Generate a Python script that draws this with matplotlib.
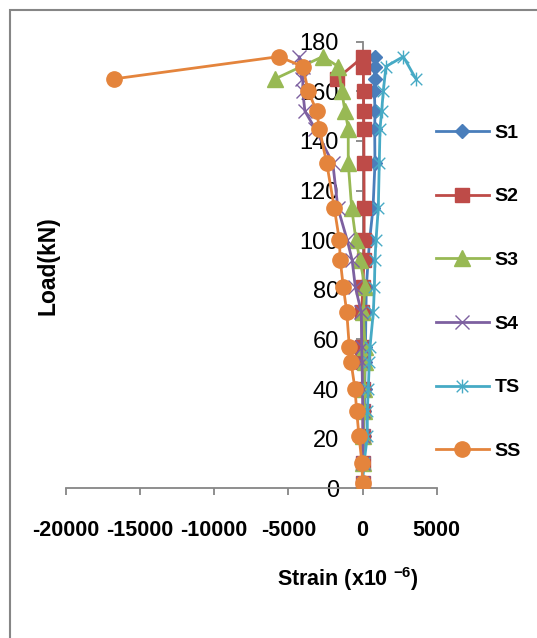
import matplotlib.pyplot as plt
from matplotlib.path import Path
from matplotlib.patches import Rectangle

plt.rcParams["axes.unicode_minus"] = False
plt.rcParams["mathtext.fontset"] = "custom"
plt.rcParams["mathtext.rm"] = "Liberation Sans"
plt.rcParams["mathtext.bf"] = "Liberation Sans:bold"

# load steps (kN), last step is the post-peak reading
load = [2, 10, 21, 31, 40, 51, 57, 71, 81, 92, 100, 113, 131, 145, 152, 160, 170, 174, 165]

# strain readings (x10^-6)
s1 = [0, 30, 80, 120, 150, 180, 200, 230, 260, 380, 480, 710, 840, 820, 840, 800, 820, 840, 860]
s2 = [0, 0, 30, 40, 50, 0, -20, -60, 20, 100, 110, 110, 100, 90, 80, 70, 60, 60, -1740]
s3 = [0, 20, 60, 80, 100, 170, 170, 55, 170, -170, -440, -730, -960, -960, -1180, -1400, -1630, -2680, -5900]
s4 = [0, 20, 30, 20, 0, -30, -50, -80, -480, -700, -1030, -1660, -2000, -3200, -3880, -4030, -4000, -4270, -4100]
ts = [0, 100, 325, 325, 390, 460, 505, 730, 800, 840, 910, 1065, 1130, 1180, 1290, 1400, 1580, 2750, 3600]
ss = [0, -30, -235, -390, -505, -775, -890, -1060, -1290, -1500, -1560, -1900, -2410, -2910, -3090, -3650, -4030, -5630, -16750]

labels = ["S1", "S2", "S3", "S4", "TS", "SS"]
colors = ["#4A7EBB", "#BE4B48", "#98B954", "#7D60A0", "#46AAC5", "#E4843C"]

# asterisk marker: an x with a vertical stroke
star = Path(
    [(-1, -1), (1, 1), (-1, 1), (1, -1), (0, -1.2), (0, 1.2)],
    [Path.MOVETO, Path.LINETO, Path.MOVETO, Path.LINETO, Path.MOVETO, Path.LINETO],
)

styles = [
    dict(marker="D", ms=7.5),
    dict(marker="s", ms=9.8),
    dict(marker="^", ms=11.5),
    dict(marker="x", ms=9.4, mew=1.0),
    dict(marker=star, ms=10, mew=1.0, mfc="none"),
    dict(marker="o", ms=11),
]

W, H = 537, 638
fig = plt.figure(figsize=(W / 100, H / 100), dpi=100)
ax = fig.add_axes([65.7 / W, 1 - 488.3 / H, 371 / W, 446.6 / H])

for xs, lab, c, st in zip([s1, s2, s3, s4, ts, ss], labels, colors, styles):
    ax.plot(xs, load, color=c, lw=2.0, label=lab, zorder=3, **st)

ax.set_xlim(-20000, 5000)
ax.set_ylim(0, 180)
ax.set_xticks(range(-20000, 5001, 5000))
ax.set_yticks(range(0, 181, 20))

gray = "#868686"
for side in ["top", "right"]:
    ax.spines[side].set_visible(False)
ax.spines["left"].set_position(("data", 0))
for side in ["left", "bottom"]:
    ax.spines[side].set_color(gray)
    ax.spines[side].set_linewidth(1.3)

ax.tick_params(axis="y", direction="out", length=5, width=1.3, color=gray, pad=12,
               labelsize=17)
ax.tick_params(axis="x", direction="out", length=5, width=1.3, color=gray, pad=18,
               labelsize=15.5)
for t in ax.get_yticklabels():
    t.set_fontfamily("Liberation Sans")
for t in ax.get_xticklabels():
    t.set_fontfamily("Liberation Sans")
    t.set_fontweight("bold")

fig.text(348 / W, 1 - 579 / H, r"Strain (x10 $\mathbf{^{-6}}$)", ha="center", va="center",
         fontsize=15.5, fontweight="bold", family="Liberation Sans")
fig.text(48 / W, 1 - 266 / H, "Load(kN)", ha="center", va="center", rotation=90,
         fontsize=16.5, fontweight="bold", family="Liberation Sans")

leg = fig.legend(loc="upper left", bbox_to_anchor=(436 / W, 1 - 124 / H), frameon=False,
                 borderpad=0, borderaxespad=0, handlelength=2.7, handletextpad=0.3,
                 labelspacing=2.37, prop={"family": "Liberation Sans", "weight": "bold", "size": 14})

# outer chart-area border
fig.patches.append(Rectangle((10 / W, -0.1), 1.2, 1 - 10 / H + 0.1, transform=fig.transFigure,
                             fill=False, ec=gray, lw=1.5))

fig.savefig("out.png", dpi=100)
